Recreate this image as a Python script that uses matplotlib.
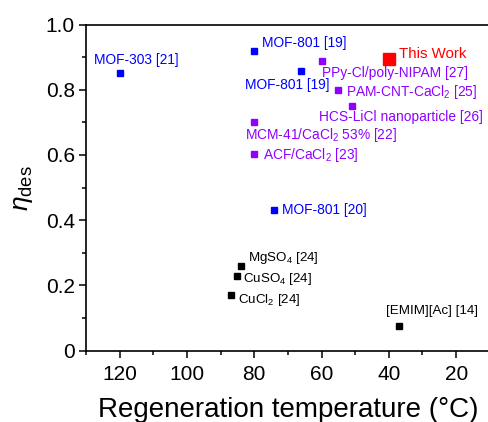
import matplotlib
matplotlib.use('Agg')
from matplotlib import pyplot as plt
from matplotlib.ticker import MultipleLocator

plt.rcParams['font.family'] = ['Liberation Sans', 'DejaVu Sans']
plt.rcParams['mathtext.fontset'] = 'custom'
plt.rcParams['mathtext.rm'] = 'Liberation Sans'
plt.rcParams['mathtext.it'] = 'Liberation Sans:italic'

BLUE = '#0000ff'
PURPLE = '#8f00ff'
RED = '#ff0000'
BLACK = '#000000'

# blue: MOF materials
blue_labels = ['MOF-303 [21]', 'MOF-801 [19]', 'MOF-801 [19]', 'MOF-801 [20]']
blue_temp = [120, 80, 66, 74]
blue_eta = [0.85, 0.92, 0.857, 0.43]
blue_offsets = [(17, 13, 'center'), (8, 8, 'left'), (28, -14, 'right'), (8, 0, 'left')]

# purple: composite sorbents
purple_labels = ['PPy-Cl/poly-NIPAM [27]', 'PAM-CNT-CaCl$_2$ [25]',
                 'HCS-LiCl nanoparticle [26]', 'MCM-41/CaCl$_2$ 53% [22]',
                 'ACF/CaCl$_2$ [23]']
purple_temp = [60, 55, 51, 80, 80]
purple_eta = [0.889, 0.80, 0.75, 0.70, 0.603]
purple_offsets = [(0, -12, 'left'), (8, -2, 'left'), (-33, -11, 'left'),
                  (-9, -13, 'left'), (9, -1, 'left')]

# black: salts and ionic liquid
black_labels = ['MgSO$_4$ [24]', 'CuSO$_4$ [24]', 'CuCl$_2$ [24]', '[EMIM][Ac] [14]']
black_temp = [84, 85, 87, 37]
black_eta = [0.26, 0.23, 0.17, 0.076]
black_offsets = [(7, 8, 'left'), (6, -3, 'left'), (7, -5, 'left'), (33, 15, 'center')]

this_temp = [40]
this_eta = [0.894]

fig = plt.figure(figsize=(4.88, 4.22), dpi=100)
ax = fig.add_axes([86 / 488, 1 - 350.7 / 422, 403.8 / 488, 326.2 / 422])


def draw_group(temps, etas, labels, offsets, color, ms, fs):
    ax.plot(temps, etas, 's', color=color, markersize=ms, linestyle='none', clip_on=False)
    for t, e, lab, (dx, dy, ha) in zip(temps, etas, labels, offsets):
        ax.annotate(lab, (t, e), xytext=(dx, dy), textcoords='offset pixels',
                    ha=ha, va='center', color=color, fontsize=fs)


draw_group(blue_temp, blue_eta, blue_labels, blue_offsets, BLUE, 4.4, 9.9)
draw_group(purple_temp, purple_eta, purple_labels, purple_offsets, PURPLE, 4.4, 9.9)
draw_group(black_temp, black_eta, black_labels, black_offsets, BLACK, 4.6, 9.6)
draw_group(this_temp, this_eta, ['This Work'], [(10, 5, 'left')], RED, 8.5, 10.8)

ax.set_xlim(130, 10)
ax.set_ylim(0, 1.0)
ax.xaxis.set_major_locator(MultipleLocator(20))
ax.xaxis.set_minor_locator(MultipleLocator(10))
ax.yaxis.set_major_locator(MultipleLocator(0.2))
ax.yaxis.set_minor_locator(MultipleLocator(0.1))
ax.set_yticks([0, 0.2, 0.4, 0.6, 0.8, 1.0])
ax.set_yticklabels(['0', '0.2', '0.4', '0.6', '0.8', '1.0'])

for s in ax.spines.values():
    s.set_linewidth(1.2)
ax.spines['right'].set_visible(False)
ax.tick_params(which='major', direction='out', length=5, width=1.1, labelsize=15, pad=3)
ax.tick_params(axis='x', which='major', pad=5)
ax.tick_params(which='minor', direction='out', length=3, width=1.1)
ax.tick_params(top=False, right=False)

ax.set_xlabel('Regeneration temperature (°C)', fontsize=20, labelpad=10)
ax.set_ylabel(r'$\eta_{\mathrm{des}}$', fontsize=19, labelpad=8)

fig.savefig('out.png', dpi=100)
